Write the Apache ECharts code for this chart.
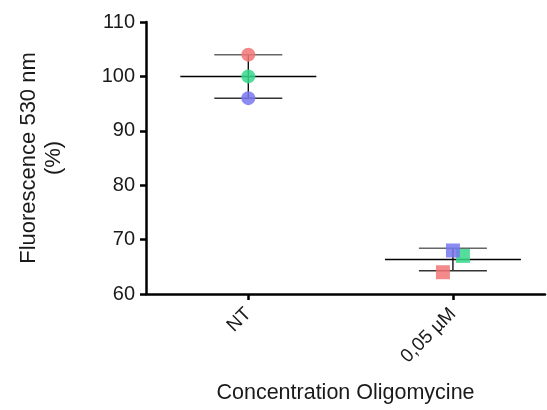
<!DOCTYPE html>
<html>
<head>
<meta charset="utf-8">
<script src="https://cdn.jsdelivr.net/npm/echarts@6/dist/echarts.min.js"></script>
<style>
html,body{margin:0;padding:0;background:#fff;}
#chart{width:547px;height:410px;}
</style>
</head>
<body>
<div id="chart"></div>
<script>
// ---- data ----
const categories = ['NT', '0,05 µM'];
const categoryPositions = [1, 2];
const redValues = [104, 64];
const greenValues = [100, 67];
const blueValues = [96, 68];
const yTicks = [60, 70, 80, 90, 100, 110];

// ---- derived stats ----
function mean(a){ return a.reduce((s,v)=>s+v,0)/a.length; }
function sd(a){ const m = mean(a); return Math.sqrt(a.reduce((s,v)=>s+(v-m)*(v-m),0)/(a.length-1)); }
const statsData = categories.map((c,i)=>{
  const vals = [redValues[i], greenValues[i], blueValues[i]];
  return [categoryPositions[i], mean(vals), sd(vals)];
});

// ---- styles ----
const FONT = 'Liberation Sans, Arial, sans-serif';
const symbols = ['circle', 'rect'];
const symbolSizes = [14, 14];
const offsets = { red: [0, -10], green: [0, 10], blue: [0, 0] };
const colors = { red: '#f27474', green: '#35d98a', blue: '#7777ee' };
const MEAN_HALF = 68, CAP_HALF = 34;

function pointSeries(name, values, key){
  return {
    type: 'scatter', name: name, z: 3,
    data: values.map((v,i)=>({
      value: [categoryPositions[i], v],
      symbol: symbols[i],
      symbolSize: symbolSizes[i],
      symbolOffset: [offsets[key][i], 0]
    })),
    itemStyle: { color: colors[key], opacity: 0.85 }
  };
}

const chart = echarts.init(document.getElementById('chart'), null, {renderer: 'canvas'});
chart.setOption({
  animation: false,
  backgroundColor: '#ffffff',
  grid: { left: 146, top: 22, right: 2, bottom: 116 },
  xAxis: {
    type: 'value', min: 0.5, max: 2.45,
    splitLine: { show: false },
    axisLine: { show: true, onZero: false, lineStyle: { color: '#000', width: 2.5 } },
    axisTick: { show: true, customValues: categoryPositions, length: 6, lineStyle: { color: '#000', width: 2.5 } },
    axisLabel: {
      customValues: categoryPositions, rotate: 45, margin: 17,
      formatter: v => categories[categoryPositions.indexOf(v)] || '',
      fontFamily: FONT, fontSize: 19, color: '#1a1a1a'
    },
    name: 'Concentration Oligomycine', nameLocation: 'middle', nameGap: 88,
    nameTextStyle: { fontFamily: FONT, fontSize: 21.5, color: '#1a1a1a' }
  },
  yAxis: {
    type: 'value', min: yTicks[0], max: yTicks[yTicks.length-1], interval: 10,
    splitLine: { show: false },
    axisLine: { show: true, lineStyle: { color: '#000', width: 2.5 } },
    axisTick: { show: true, length: 6, lineStyle: { color: '#000', width: 2.5 } },
    axisLabel: { margin: 11, fontFamily: FONT, fontSize: 20, color: '#1a1a1a' },
    name: 'Fluorescence 530 nm\n(%)', nameLocation: 'middle', nameGap: 80,
    nameTextStyle: { fontFamily: FONT, fontSize: 22, color: '#1a1a1a', lineHeight: 25 }
  },
  series: [
    {
      type: 'custom', z: 2,
      data: statsData,
      renderItem: function(params, api){
        const x = api.value(0), m = api.value(1), s = api.value(2);
        const c = api.coord([x, m]);
        const top = api.coord([x, m + s]);
        const bot = api.coord([x, m - s]);
        return {
          type: 'group',
          children: [
            { type: 'line', shape: { x1: c[0]-MEAN_HALF, y1: c[1], x2: c[0]+MEAN_HALF, y2: c[1] }, style: { stroke: '#000', lineWidth: 1.5 } },
            { type: 'line', shape: { x1: c[0], y1: top[1], x2: c[0], y2: bot[1] }, style: { stroke: '#111', lineWidth: 1.4 } },
            { type: 'line', shape: { x1: c[0]-CAP_HALF, y1: top[1], x2: c[0]+CAP_HALF, y2: top[1] }, style: { stroke: '#666', lineWidth: 1.5 } },
            { type: 'line', shape: { x1: c[0]-CAP_HALF, y1: bot[1], x2: c[0]+CAP_HALF, y2: bot[1] }, style: { stroke: '#333', lineWidth: 1.5 } }
          ]
        };
      }
    },
    pointSeries('red', redValues, 'red'),
    pointSeries('green', greenValues, 'green'),
    pointSeries('blue', blueValues, 'blue')
  ]
});
</script>
</body>
</html>
